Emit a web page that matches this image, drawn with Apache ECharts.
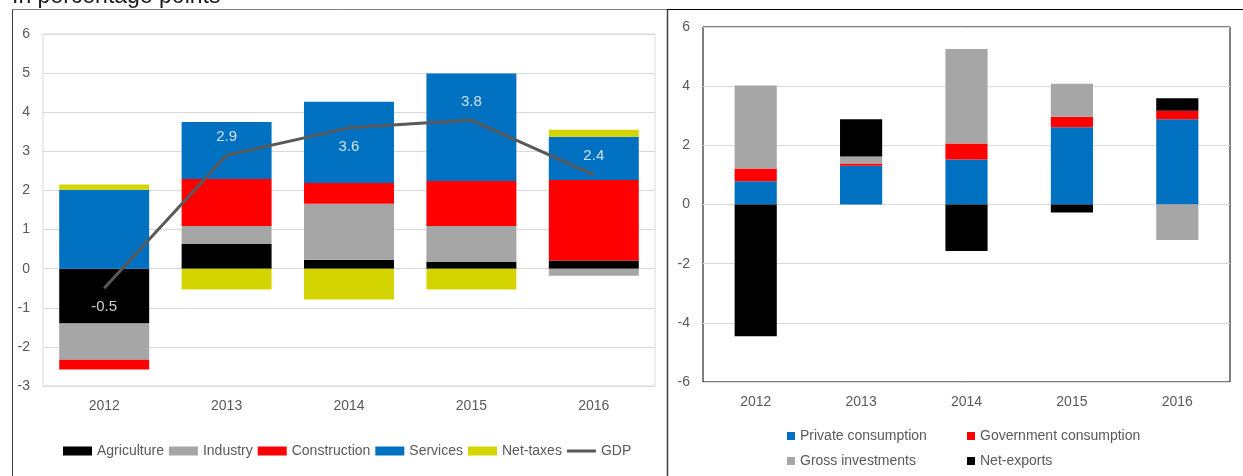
<!DOCTYPE html>
<html>
<head>
<meta charset="utf-8">
<script src="https://cdn.jsdelivr.net/npm/echarts@6/dist/echarts.min.js"></script>
<style>
html,body{margin:0;padding:0;background:#fff;}
#c{width:1243px;height:476px;}
</style>
</head>
<body>
<div id="c"></div>
<script>
// ---- data ----
const years = ['2012', '2013', '2014', '2015', '2016'];
// left chart: contributions by sector
const agriculture = [-1.4, 0.63, 0.23, 0.17, 0.21];
const industry = [-0.93, 0.46, 1.43, 0.92, -0.18];
const construction = [-0.25, 1.2, 0.53, 1.15, 2.06];
const services = [2.02, 1.46, 2.08, 2.75, 1.1];
const netTaxes = [0.13, -0.53, -0.79, -0.53, 0.18];
const gdp = [-0.5, 2.9, 3.6, 3.8, 2.4];
// right chart: contributions by expenditure
const privateConsumption = [0.79, 1.31, 1.52, 2.61, 2.88];
const governmentConsumption = [0.43, 0.08, 0.54, 0.36, 0.29];
const grossInvestments = [2.8, 0.23, 3.2, 1.11, -1.2];
const netExports = [-4.45, 1.26, -1.57, -0.27, 0.42];

// label placement for GDP values (style, not data)
const gdpLabelPlacement = ['bottom', 'top', 'bottom', 'top', 'top'];

const FONT = 'Liberation Sans';
const TXT = '#595959';
const C_BLACK = '#000000', C_GRAY = '#A6A6A6', C_RED = '#FF0000', C_BLUE = '#0070C0', C_YEL = '#D4D400';

const chart = echarts.init(document.getElementById('c'), null, {renderer: 'canvas'});

function barSeries(name, data, color, xi, stack, width) {
  return {
    name: name, type: 'bar', data: data, stack: stack,
    xAxisIndex: xi, yAxisIndex: xi, barWidth: width,
    itemStyle: {color: color}, emphasis: {disabled: true}, animation: false
  };
}

const lineIcon = 'path://M0,3L30,3L30,6L0,6Z M0,0L0.001,0 M0,9L0.001,9';

const option = {
  animation: false,
  textStyle: {fontFamily: FONT},
  graphic: [
    {type: 'text', left: 12, top: -15, style: {text: 'In percentage points', font: '23px ' + FONT, fill: '#1a1a1a'}},
    {type: 'line', shape: {x1: 12.5, y1: 9.5, x2: 667, y2: 9.5}, style: {stroke: '#808080', lineWidth: 1}},
    {type: 'line', shape: {x1: 667, y1: 9.5, x2: 1243, y2: 9.5}, style: {stroke: '#000', lineWidth: 1}},
    {type: 'line', shape: {x1: 12.5, y1: 9.5, x2: 12.5, y2: 476}, style: {stroke: '#404040', lineWidth: 1}},
    {type: 'line', shape: {x1: 667.5, y1: 9.5, x2: 667.5, y2: 476}, style: {stroke: '#404040', lineWidth: 1.5}}
  ],
  grid: [
    {left: 43, top: 34, width: 612, height: 352, show: true, borderColor: '#d9d9d9', borderWidth: 1, backgroundColor: 'transparent'},
    {left: 703, top: 27, width: 527, height: 355, show: true, borderColor: '#000', borderWidth: 1, backgroundColor: 'transparent'}
  ],
  legend: [
    {
      left: 58, top: 439, itemGap: 5, itemWidth: 29, itemHeight: 9,
      textStyle: {color: TXT, fontSize: 14, fontFamily: FONT},
      data: [
        {name: 'Agriculture', icon: 'rect'},
        {name: 'Industry', icon: 'rect'},
        {name: 'Construction', icon: 'rect'},
        {name: 'Services', icon: 'rect'},
        {name: 'Net-taxes', icon: 'rect'},
        {name: 'GDP', icon: lineIcon, itemStyle: {color: '#595959', borderWidth: 0}}
      ]
    },
    {
      left: 782, top: 424, orient: 'vertical', itemGap: 11, itemWidth: 8, itemHeight: 8, icon: 'rect',
      textStyle: {color: TXT, fontSize: 14, fontFamily: FONT},
      data: ['Private consumption', 'Gross investments']
    },
    {
      left: 962, top: 424, orient: 'vertical', itemGap: 11, itemWidth: 8, itemHeight: 8, icon: 'rect',
      textStyle: {color: TXT, fontSize: 14, fontFamily: FONT},
      data: ['Government consumption', 'Net-exports']
    }
  ],
  xAxis: [
    {
      type: 'category', gridIndex: 0, data: years,
      axisLine: {show: false, onZero: false}, axisTick: {show: false},
      axisLabel: {color: TXT, fontSize: 14, margin: 13, fontFamily: FONT}
    },
    {
      type: 'category', gridIndex: 1, data: years,
      axisLine: {show: false, onZero: false}, axisTick: {show: false},
      axisLabel: {color: TXT, fontSize: 14, margin: 13, fontFamily: FONT}
    }
  ],
  yAxis: [
    {
      type: 'value', gridIndex: 0, min: -3, max: 6, interval: 1,
      axisLine: {show: false}, axisTick: {show: false},
      axisLabel: {color: TXT, fontSize: 14, margin: 13, fontFamily: FONT},
      splitLine: {lineStyle: {color: '#d9d9d9', width: 1}}
    },
    {
      type: 'value', gridIndex: 1, min: -6, max: 6, interval: 2,
      axisLine: {show: false}, axisTick: {show: false},
      axisLabel: {color: TXT, fontSize: 14, margin: 13, fontFamily: FONT},
      splitLine: {lineStyle: {color: '#d9d9d9', width: 1}}
    }
  ],
  series: [
    barSeries('Agriculture', agriculture, C_BLACK, 0, 'L', '73.5%'),
    barSeries('Industry', industry, C_GRAY, 0, 'L', '73.5%'),
    barSeries('Construction', construction, C_RED, 0, 'L', '73.5%'),
    barSeries('Services', services, C_BLUE, 0, 'L', '73.5%'),
    barSeries('Net-taxes', netTaxes, C_YEL, 0, 'L', '73.5%'),
    {
      name: 'GDP', type: 'line', xAxisIndex: 0, yAxisIndex: 0, z: 5,
      data: gdp,
      symbol: 'none', showSymbol: false,
      lineStyle: {color: '#595959', width: 3}, itemStyle: {color: '#595959'},
      emphasis: {disabled: true}
    },
    {
      name: 'GDP values', type: 'scatter', xAxisIndex: 0, yAxisIndex: 0, z: 6,
      data: gdp.map((v, i) => ({value: v, label: {position: gdpLabelPlacement[i]}})),
      symbolSize: 0, itemStyle: {color: 'transparent'},
      label: {show: true, color: '#fff', fontSize: 15, distance: 11, fontFamily: FONT,
              formatter: p => p.value.toFixed(1)},
      emphasis: {disabled: true}, silent: true
    },
    barSeries('Private consumption', privateConsumption, C_BLUE, 1, 'R', '40%'),
    barSeries('Government consumption', governmentConsumption, C_RED, 1, 'R', '40%'),
    barSeries('Gross investments', grossInvestments, C_GRAY, 1, 'R', '40%'),
    barSeries('Net-exports', netExports, C_BLACK, 1, 'R', '40%')
  ]
};
chart.setOption(option);
</script>
</body>
</html>
